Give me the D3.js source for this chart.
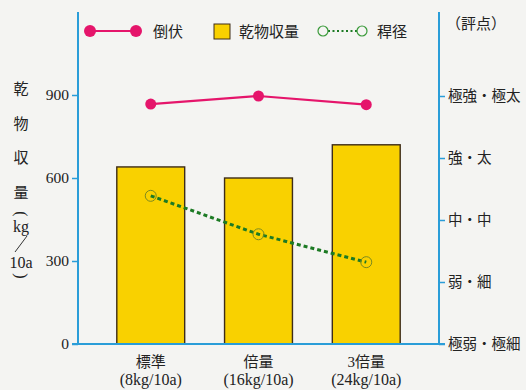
<!DOCTYPE html>
<html>
<head>
<meta charset="utf-8">
<script src="https://cdn.jsdelivr.net/npm/d3@7/dist/d3.min.js"></script>
<style>
  html, body { margin: 0; padding: 0; background: #f4f4f2; }
  svg { display: block; }
  text { font-family: "Liberation Serif", "Noto Sans CJK JP", serif; fill: #222; }
</style>
</head>
<body>
<svg id="chart" width="526" height="390"></svg>
<script>
// Fertilizer levels on the x axis
const categories = ["標準", "倍量", "3倍量"];
const categoryRates = ["(8kg/10a)", "(16kg/10a)", "(24kg/10a)"];
// Dry matter yield (kg/10a), left axis
const dryMatterYield = [640, 600, 720];
// Scores on the right axis (1 = weakest/thinnest ... 5 = strongest/thickest)
const lodgingScore = [4.87, 5.0, 4.86];
const culmDiameterScore = [3.39, 2.77, 2.32];
// Tick labels
const leftTicks = [0, 300, 600, 900];
const rightTickValues = [1, 2, 3, 4, 5];
const rightTickLabels = ["極弱・極細", "弱・細", "中・中", "強・太", "極強・極太"];
const leftTitleChars = ["乾", "物", "収", "量"];
const legendLabels = ["倒伏", "乾物収量", "稈径"];

const blue = "#2a9dd8", pink = "#e5156b", yellow = "#f9d100",
      barEdge = "#3e2c18", green = "#1c7a24", ring = "#7c8a20";
const cjk = "'Noto Sans CJK JP', sans-serif";

const svg = d3.select("#chart");
const plotLeft = 78, plotRight = 439, plotTop = 12, plotBottom = 344;

const x = d3.scaleBand().domain(categories).range([plotLeft, plotRight])
  .paddingInner(0.37).paddingOuter(0.36);
const y = d3.scaleLinear().domain([0, 1200]).range([plotBottom, plotTop]);
const yR = d3.scaleLinear().domain([1, 5]).range([plotBottom, 96]);
const cx = c => x(c) + x.bandwidth() / 2;

// Bars
svg.append("g").selectAll("rect").data(dryMatterYield).join("rect")
  .attr("x", (d, i) => x(categories[i]))
  .attr("y", d => y(d))
  .attr("width", x.bandwidth())
  .attr("height", d => y(0) - y(d))
  .attr("fill", yellow).attr("stroke", barEdge).attr("stroke-width", 1.4);

// Culm diameter: dotted green line with hollow rings
const lineR = d3.line().x((d, i) => cx(categories[i])).y(d => yR(d));
svg.append("path").datum(culmDiameterScore).attr("d", lineR)
  .attr("fill", "none").attr("stroke", green).attr("stroke-width", 3)
  .attr("stroke-dasharray", "4,3");
svg.append("g").selectAll("circle").data(culmDiameterScore).join("circle")
  .attr("cx", (d, i) => cx(categories[i])).attr("cy", d => yR(d)).attr("r", 5.5)
  .attr("fill", "none").attr("stroke", ring).attr("stroke-width", 1);

// Lodging: pink line with filled markers
svg.append("path").datum(lodgingScore).attr("d", lineR)
  .attr("fill", "none").attr("stroke", pink).attr("stroke-width", 2.2);
svg.append("g").selectAll("circle").data(lodgingScore).join("circle")
  .attr("cx", (d, i) => cx(categories[i])).attr("cy", d => yR(d)).attr("r", 5.5)
  .attr("fill", pink);

// Left axis
const gL = svg.append("g").attr("transform", `translate(${plotLeft},0)`)
  .call(d3.axisLeft(y).tickValues(leftTicks).tickSize(6).tickSizeOuter(0).tickPadding(3));
gL.select(".domain").remove();
gL.selectAll(".tick line").attr("stroke", blue).attr("stroke-width", 1.5);
gL.selectAll(".tick text").attr("font-size", 15.5)
  .style("font-family", "'Liberation Serif', serif").attr("fill", "#222");

// Right axis
const gR = svg.append("g").attr("transform", `translate(${plotRight},0)`)
  .call(d3.axisRight(yR).tickValues(rightTickValues).tickSize(6).tickSizeOuter(0).tickPadding(3)
    .tickFormat((d, i) => rightTickLabels[i]));
gR.select(".domain").remove();
gR.selectAll(".tick line").attr("stroke", blue).attr("stroke-width", 1.5);
gR.selectAll(".tick text").attr("font-size", 14.5)
  .style("font-family", cjk).attr("fill", "#222");

// Axis spines and baseline
svg.append("line").attr("x1", plotLeft).attr("x2", plotLeft).attr("y1", plotTop).attr("y2", plotBottom)
  .attr("stroke", blue).attr("stroke-width", 2);
svg.append("line").attr("x1", plotRight).attr("x2", plotRight).attr("y1", plotTop).attr("y2", plotBottom)
  .attr("stroke", blue).attr("stroke-width", 2);
svg.append("line").attr("x1", plotLeft - 6).attr("x2", plotRight + 6).attr("y1", plotBottom).attr("y2", plotBottom)
  .attr("stroke", blue).attr("stroke-width", 2);

// Category labels
const gX = svg.append("g");
gX.selectAll("text.cat").data(categories).join("text").attr("class", "cat")
  .attr("x", d => cx(d)).attr("y", 367).attr("text-anchor", "middle")
  .attr("font-size", 15).text(d => d);
gX.selectAll("text.rate").data(categoryRates).join("text").attr("class", "rate")
  .attr("x", (d, i) => cx(categories[i])).attr("y", 385).attr("text-anchor", "middle")
  .attr("font-size", 16).text(d => d);

// Right axis title
svg.append("text").attr("x", 446).attr("y", 29).attr("font-size", 15)
  .style("font-family", cjk).text("（評点）");

// Left axis title, stacked vertically; the brackets are turned to read downward
const gT = svg.append("g").attr("text-anchor", "middle");
gT.selectAll("text.ch").data(leftTitleChars).join("text").attr("class", "ch")
  .attr("x", 21).attr("y", (d, i) => 94 + i * 34.5).attr("font-size", 15)
  .style("font-family", cjk).text(d => d);
gT.append("text").attr("transform", "translate(21,214) rotate(90)")
  .attr("dominant-baseline", "central").attr("font-size", 16).text("(");
gT.append("text").attr("x", 21).attr("y", 232).attr("font-size", 16).text("kg");
gT.append("line").attr("x1", 15).attr("y1", 252).attr("x2", 27).attr("y2", 236)
  .attr("stroke", "#333").attr("stroke-width", 1);
gT.append("text").attr("x", 21).attr("y", 268).attr("font-size", 16).text("10a");
gT.append("text").attr("transform", "translate(21,276) rotate(90)")
  .attr("dominant-baseline", "central").attr("font-size", 16).text(")");

// Legend
const lg = svg.append("g");
lg.append("line").attr("x1", 90).attr("x2", 136).attr("y1", 31).attr("y2", 31)
  .attr("stroke", pink).attr("stroke-width", 2.2);
lg.selectAll("circle.p").data([90, 136]).join("circle").attr("class", "p")
  .attr("cx", d => d).attr("cy", 31).attr("r", 6).attr("fill", pink);
lg.append("text").attr("x", 153).attr("y", 37).attr("font-size", 15)
  .style("font-family", cjk).text(legendLabels[0]);
lg.append("rect").attr("x", 214).attr("y", 24).attr("width", 16).attr("height", 15)
  .attr("fill", yellow).attr("stroke", barEdge).attr("stroke-width", 1);
lg.append("text").attr("x", 239).attr("y", 37).attr("font-size", 15)
  .style("font-family", cjk).text(legendLabels[1]);
lg.append("line").attr("x1", 328).attr("x2", 357).attr("y1", 31).attr("y2", 31)
  .attr("stroke", green).attr("stroke-width", 2).attr("stroke-dasharray", "2,2.5");
lg.selectAll("circle.g").data([323, 362]).join("circle").attr("class", "g")
  .attr("cx", d => d).attr("cy", 31).attr("r", 5)
  .attr("fill", "none").attr("stroke", "#3a9a3a").attr("stroke-width", 1.2);
lg.append("text").attr("x", 377).attr("y", 37).attr("font-size", 15)
  .style("font-family", cjk).text(legendLabels[2]);
</script>
</body>
</html>
